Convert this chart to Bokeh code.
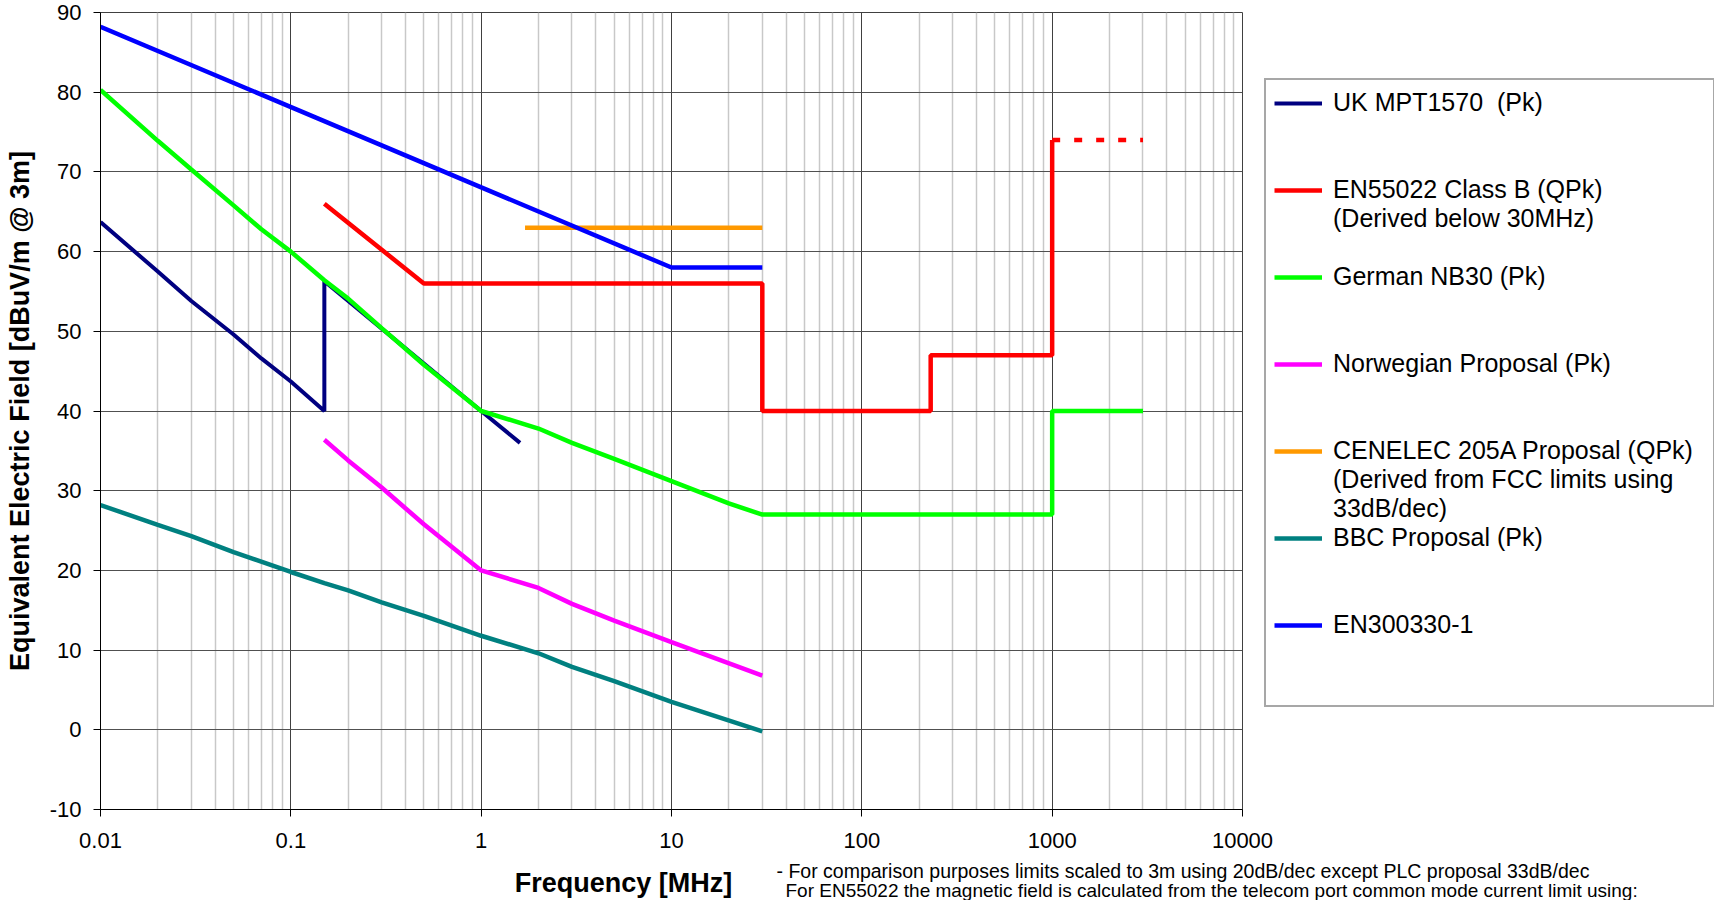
from bokeh.plotting import figure
from bokeh.models import FixedTicker, CustomJSTickFormatter, Legend, LegendItem, Range1d
from bokeh.core.properties import value
from bokeh.embed import file_html
from bokeh.resources import INLINE

# ---------------- data ----------------
x_ticks = [0.01, 0.1, 1, 10, 100, 1000, 10000]
y_ticks = [-10, 0, 10, 20, 30, 40, 50, 60, 70, 80, 90]

uk_f = [0.01, 0.02, 0.03, 0.05, 0.07, 0.1, 0.15, 0.15, 1.0, 1.6]
uk_v = [63.7, 57.5, 53.8, 49.6, 46.6, 43.7, 40.0, 56.3, 40.0, 36.0]

en_f = [0.15, 0.5, 30, 30, 230, 230, 1000, 1000]
en_v = [66.0, 56.0, 56.0, 40.0, 40.0, 47.0, 47.0, 74.0]
en_ext_f = [1000, 3000]
en_ext_v = [74.0, 74.0]

de_f = [0.01, 0.02, 0.03, 0.05, 0.07, 0.1, 0.15, 0.2, 0.3, 0.5, 1, 2, 3, 5, 10, 20, 30, 1000, 1000, 3000]
de_v = [80.3, 73.9, 70.3, 65.8, 62.8, 60.0, 56.4, 54.1, 50.4, 45.8, 40.0, 37.8, 36.0, 34.0, 31.2, 28.4, 27.0, 27.0, 40.0, 40.0]

no_f = [0.15, 0.2, 0.3, 0.4, 0.5, 1, 2, 3, 5, 10, 30]
no_v = [36.4, 33.8, 30.4, 27.8, 25.8, 20.0, 17.8, 15.8, 13.7, 11.0, 6.8]

cen_f = [1.7, 30]
cen_v = [63.0, 63.0]

bbc_f = [0.01, 0.02, 0.03, 0.05, 0.1, 0.15, 0.2, 0.3, 0.5, 1, 2, 3, 5, 10, 30]
bbc_v = [28.2, 25.7, 24.3, 22.3, 19.8, 18.4, 17.5, 16.0, 14.3, 11.8, 9.6, 7.9, 6.1, 3.5, -0.2]

en300_f = [0.01, 10, 30]
en300_v = [88.2, 58.0, 58.0]

x_title = "Frequency [MHz]"
note_1 = "- For comparison purposes  limits scaled to 3m using 20dB/dec except PLC proposal 33dB/dec"
note_2 = "For EN55022 the magnetic field is calculated from the telecom port common mode current limit  using:"

FONT = "Liberation Sans"

# ---------------- layout constants (page pixels) ----------------
W = 1712
FL, FT, FR, FB = 100, 12, 1242, 809
H1 = 860
H2 = 40

p = figure(frame_width=FR - FL, frame_height=FB - FT, x_axis_type="log",
           x_range=(0.01, 10000), y_range=(-10, 90),
           output_backend="svg", toolbar_location=None,
           min_border_left=FL, min_border_top=FT, min_border_right=0,
           min_border_bottom=H1 - FB)
p.background_fill_color = "white"
p.border_fill_color = "white"
p.outline_line_color = "#404040"
p.outline_line_width = 1

xt = FixedTicker(ticks=x_ticks, minor_ticks=[m * t for t in x_ticks[:-1] for m in range(2, 10)])
yt = FixedTicker(ticks=y_ticks, minor_ticks=[])
xa = p.xaxis[0]
ya = p.yaxis[0]
xa.ticker = xt
ya.ticker = yt
p.xgrid[0].ticker = xt
p.ygrid[0].ticker = yt
xa.formatter = CustomJSTickFormatter(code="return tick.toString();")
ya.formatter = CustomJSTickFormatter(code="return tick.toString();")

for ax in (xa, ya):
    ax.axis_line_color = "black"
    ax.axis_line_width = 1
    ax.major_tick_line_color = "black"
    ax.major_tick_out = 7
    ax.major_tick_in = 0
    ax.minor_tick_line_color = None
    ax.major_label_text_font = FONT
    ax.major_label_text_font_size = "22px"
    ax.major_label_text_color = "black"
xa.major_label_standoff = 16
ya.major_label_standoff = 12

ya.axis_label = "Equivalent Electric Field [dBuV/m @ 3m]"
ya.axis_label_text_font = FONT
ya.axis_label_text_font_size = "27px"
ya.axis_label_text_font_style = "bold"
ya.axis_label_text_color = "black"
ya.axis_label_standoff = 12

p.xgrid.grid_line_color = "#404040"
p.xgrid.grid_line_width = 1
p.xgrid.minor_grid_line_color = "#c8c8c8"
p.xgrid.minor_grid_line_width = 1.5
p.ygrid.grid_line_color = "#505050"
p.ygrid.grid_line_width = 1

# ---------------- series ----------------
LW = 4.5
r_uk = p.line(uk_f, uk_v, line_color="#000080", line_width=4)
r_en = p.line(en_f, en_v, line_color="#ff0000", line_width=LW)
p.line(en_ext_f, en_ext_v, line_color="#ff0000", line_width=LW, line_dash="8 14")
r_de = p.line(de_f, de_v, line_color="#00ff00", line_width=LW)
r_no = p.line(no_f, no_v, line_color="#ff00ff", line_width=LW)
r_cen = p.line(cen_f, cen_v, line_color="#ff9900", line_width=LW)
r_bbc = p.line(bbc_f, bbc_v, line_color="#008080", line_width=LW)
r_300 = p.line(en300_f, en300_v, line_color="#0000ff", line_width=LW)
r_none = p.line([], [], line_alpha=0)

# ---------------- legend (fixed row grid, like the original) ----------------
rows = [
    ("UK MPT1570  (Pk)", r_uk), (" ", r_none), (" ", r_none),
    ("EN55022 Class B (QPk)", r_en), ("(Derived below 30MHz)", r_none), (" ", r_none),
    ("German NB30 (Pk)", r_de), (" ", r_none), (" ", r_none),
    ("Norwegian Proposal (Pk)", r_no), (" ", r_none), (" ", r_none),
    ("CENELEC 205A Proposal (QPk)", r_cen), ("(Derived from FCC limits using", r_none),
    ("33dB/dec)", r_none),
    ("BBC Proposal (Pk)", r_bbc), (" ", r_none), (" ", r_none),
    ("EN300330-1", r_300), (" ", r_none), (" ", r_none),
]
ROW, PAD, GW, GS = 29, 8, 48, 11
LEG_L, LEG_T, LEG_W = 1264, 82, 447
legend = Legend(items=[LegendItem(label=t, renderers=[r]) for t, r in rows])
legend.label_text_font = FONT
legend.label_text_font_size = "25px"
legend.label_text_color = "black"
legend.label_height = ROW
legend.glyph_height = 20
legend.glyph_width = GW
legend.label_standoff = GS
legend.label_width = LEG_W - 2 * PAD - GW - GS
legend.spacing = 0
legend.padding = PAD
legend.margin = 0
legend.border_line_color = "#505050"
legend.border_line_width = 2
legend.background_fill_color = "white"
legend.background_fill_alpha = 1
legend.inactive_fill_alpha = 0
legend_h = 2 * PAD + ROW * len(rows)
legend.location = (LEG_L - FR, FB - (LEG_T + legend_h))
p.add_layout(legend, "right")

# ---------------- footer: axis title and notes (separate root, page coords) ----------------
f = figure(frame_width=W, frame_height=H2, x_range=Range1d(0, W), y_range=Range1d(H1 + H2, H1),
           x_axis_location=None, y_axis_location=None,
           output_backend="svg", toolbar_location=None,
           min_border_left=0, min_border_right=0, min_border_top=0, min_border_bottom=0)
f.grid.visible = False
f.outline_line_color = None
f.background_fill_color = "white"
f.border_fill_color = "white"
f.text(x=[623], y=[882], text=[x_title], text_font=value(FONT), text_font_size="27px",
       text_font_style="bold", text_align="center", text_baseline="middle", text_color="black")
f.text(x=[776], y=[870.5], text=[note_1], text_font=value(FONT), text_font_size="19.5px",
       text_align="left", text_baseline="middle", text_color="black")
f.text(x=[785], y=[890], text=[note_2], text_font=value(FONT), text_font_size="19px",
       text_align="left", text_baseline="middle", text_color="black")

open("out.html", "w").write(file_html([p, f], INLINE))
